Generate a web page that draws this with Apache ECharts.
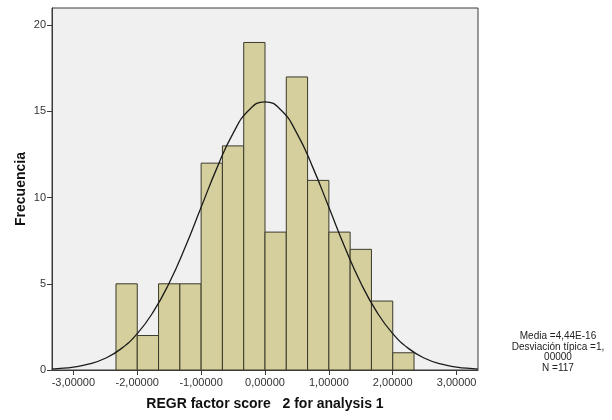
<!DOCTYPE html>
<html>
<head>
<meta charset="utf-8">
<script src="https://cdn.jsdelivr.net/npm/echarts@6/dist/echarts.min.js"></script>
<style>
  html, body { margin: 0; padding: 0; background: #fff; }
  #main { width: 612px; height: 420px; }
</style>
</head>
<body>
<div id="main"></div>
<script>
var myChart = echarts.init(document.getElementById('main'));

// bin edges of the histogram (width 1/3)
var binEdges = [-2.3333, -2.0, -1.6667, -1.3333, -1.0, -0.6667, -0.3333, 0.0,
                0.3333, 0.6667, 1.0, 1.3333, 1.6667, 2.0, 2.3333];
var counts = [5, 2, 5, 5, 12, 13, 19, 8, 17, 11, 8, 7, 4, 1];

// normal curve
var curveX = [-3.33, -3.25, -3.0, -2.75, -2.5, -2.25, -2.0, -1.75, -1.5, -1.25, -1.0, -0.75, -0.5, -0.25, 0,
              0.25, 0.5, 0.75, 1.0, 1.25, 1.5, 1.75, 2.0, 2.25, 2.5, 2.75, 3.0, 3.25, 3.33];
var curveY = [0.06, 0.08, 0.17, 0.35, 0.68, 1.24, 2.11, 3.37, 5.05, 7.12, 9.44, 11.74, 13.73, 15.08, 15.56,
              15.08, 13.73, 11.74, 9.44, 7.12, 5.05, 3.37, 2.11, 1.24, 0.68, 0.35, 0.17, 0.08, 0.06];

var xTicks = [-3, -2, -1, 0, 1, 2, 3];
var yTicks = [0, 5, 10, 15, 20];
var statsLines = ['Media =4,44E-16', 'Desviación típica =1,', '00000', 'N =117'];

var barData = [];
for (var i = 0; i < counts.length; i++) {
    barData.push([binEdges[i], binEdges[i + 1], counts[i]]);
}
var curveData = [];
for (var j = 0; j < curveX.length; j++) {
    curveData.push([curveX[j], curveY[j]]);
}

var option = {
    backgroundColor: '#ffffff',
    animation: false,
    textStyle: { fontFamily: 'Liberation Sans, Arial, sans-serif' },
    grid: {
        left: 52, top: 8, right: 134, bottom: 50,
        outerBoundsMode: 'none',
        show: true,
        backgroundColor: '#f0f0f0',
        borderColor: '#3a3a3a',
        borderWidth: 1
    },
    xAxis: {
        type: 'value',
        min: -3.335,
        max: 3.335,
        name: 'REGR factor score   2 for analysis 1',
        nameLocation: 'middle',
        nameMoveOverlap: false,
        nameGap: 27,
        nameTextStyle: { fontSize: 14, fontWeight: 'bold', color: '#111' },
        splitLine: { show: false },
        axisLine: { show: true, onZero: false, lineStyle: { color: '#3a3a3a' } },
        axisTick: { show: true, length: 5, customValues: xTicks, lineStyle: { color: '#3a3a3a' } },
        axisLabel: {
            customValues: xTicks,
            fontSize: 11,
            color: '#333',
            margin: 7,
            formatter: function (v) { return v.toFixed(5).replace('.', ','); }
        }
    },
    yAxis: {
        type: 'value',
        min: 0,
        max: 21,
        name: 'Frecuencia',
        nameLocation: 'middle',
        nameMoveOverlap: false,
        nameGap: 24,
        nameTextStyle: { fontSize: 14, fontWeight: 'bold', color: '#111' },
        splitLine: { show: false },
        axisLine: { show: true, onZero: false, lineStyle: { color: '#3a3a3a' } },
        axisTick: { show: true, length: 5, customValues: yTicks, lineStyle: { color: '#3a3a3a' } },
        axisLabel: { customValues: yTicks, fontSize: 11, color: '#333', margin: 6 }
    },
    graphic: [{
        type: 'text',
        x: 558,
        y: 331,
        style: {
            text: statsLines.join('\n'),
            align: 'center',
            textAlign: 'center',
            fontSize: 10,
            lineHeight: 10.5,
            fill: '#222',
            fontFamily: 'Liberation Sans, Arial, sans-serif'
        }
    }],
    series: [
        {
            type: 'custom',
            renderItem: function (params, api) {
                var p0 = api.coord([api.value(0), api.value(2)]);
                var p1 = api.coord([api.value(1), 0]);
                return {
                    type: 'rect',
                    shape: { x: p0[0], y: p0[1], width: p1[0] - p0[0], height: p1[1] - p0[1] },
                    style: { fill: '#d4cf9c', stroke: '#3c3a2c', lineWidth: 1 }
                };
            },
            encode: { x: [0, 1], y: 2 },
            data: barData,
            z: 2
        },
        {
            type: 'line',
            data: curveData,
            smooth: true,
            showSymbol: false,
            lineStyle: { color: '#1a1a1a', width: 1.3 },
            z: 3
        }
    ]
};

myChart.setOption(option);
</script>
</body>
</html>
